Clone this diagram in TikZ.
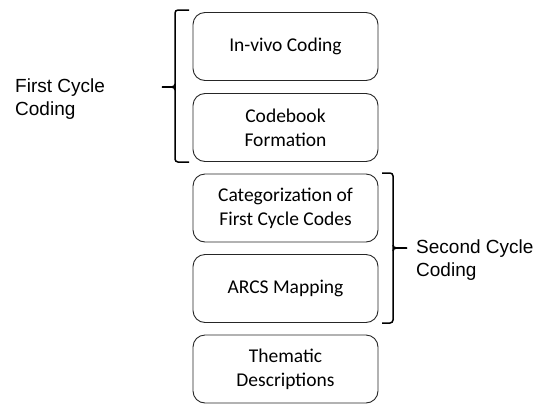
\documentclass[tikz,border=0pt]{standalone}
\usepackage{fontspec}
\setmainfont{Carlito}
\newfontfamily\labelfont{Liberation Sans}
\begin{document}
\begin{tikzpicture}[x=1pt,y=-1pt,
  stepbox/.style={draw=black!85,line width=0.9pt,rounded corners=12pt,minimum width=185pt,minimum height=68pt,align=center,font=\fontsize{19.5}{24}\selectfont,inner sep=2pt},
  bracestyle/.style={draw=black,line width=1.5pt},
  sidelabel/.style={font=\labelfont\fontsize{19}{23}\selectfont,align=left,inner sep=0pt}]
\useasboundingbox (0,0) rectangle (538,405);
\node[stepbox] (b1) at (285.5,46.5) {In-vivo Coding};
\node[stepbox] (b2) at (285.5,127.5) {Codebook\\Formation};
\node[stepbox] (b3) at (285.5,208) {Categorization of\\First Cycle Codes};
\node[stepbox] (b4) at (285.5,288.5) {ARCS Mapping};
\node[stepbox] (b5) at (285.5,369) {Thematic\\Descriptions};
% left brace
\draw[bracestyle,rounded corners=3pt] (189,10) -- (175,10) -- (175,162) -- (189,162);
\draw[bracestyle] (162,87) .. controls (170,87) and (175,88) .. (175,84);
\draw[bracestyle] (162,87) .. controls (170,87) and (175,86) .. (175,90);
% right brace
\draw[bracestyle,rounded corners=3pt] (382,173) -- (393,173) -- (393,323) -- (382,323);
\draw[bracestyle] (407,248) .. controls (398,248) and (393,249) .. (393,245);
\draw[bracestyle] (407,248) .. controls (398,248) and (393,247) .. (393,251);
\node[sidelabel,anchor=north west] (l1) at (15,79) {First Cycle\\Coding};
\node[sidelabel,anchor=north west] (l2) at (416,240) {Second Cycle\\Coding};
\end{tikzpicture}
\end{document}
